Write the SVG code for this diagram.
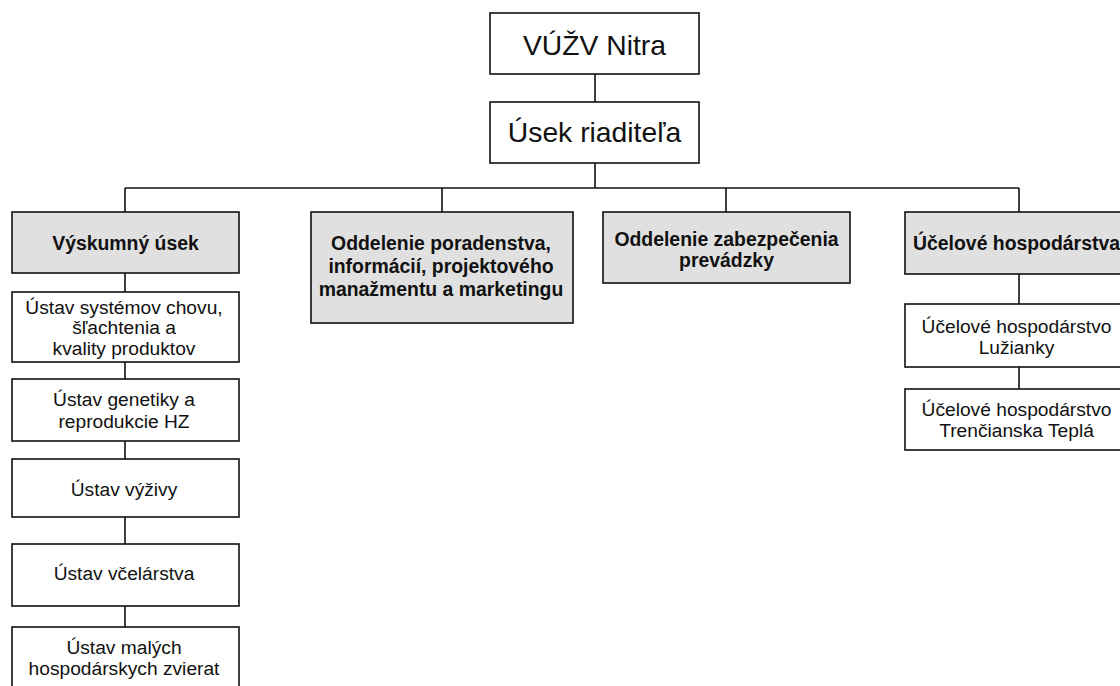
<svg xmlns="http://www.w3.org/2000/svg" width="1120" height="686" viewBox="0 0 1120 686">
<style>
rect.b{fill:#ffffff;stroke:#111;stroke-width:1.6}
rect.g{fill:#e0e0e0;stroke:#111;stroke-width:1.6}
text{font-family:"Liberation Sans",Arial,sans-serif;fill:#111;text-anchor:middle}
.n{font-size:19.2px}
.bd{font-size:19.4px;font-weight:bold}
.big{font-size:28.3px}
#connectors path{fill:none;stroke:#111;stroke-width:1.6}
</style>
<rect width="1120" height="686" fill="#ffffff"/>
<g id="connectors">
<path d="M595 74V102"/>
<path d="M595 163V188"/>
<path d="M125 188H1019"/>
<path d="M125 188V212"/>
<path d="M442 188V212"/>
<path d="M726 188V212"/>
<path d="M1019 188V212"/>
<path d="M125 273V292"/>
<path d="M125 362V379"/>
<path d="M125 441V459"/>
<path d="M125 517V544"/>
<path d="M125 606V627"/>
<path d="M1019 274V304"/>
<path d="M1019 367V389"/>
</g>
<g id="vuzv"><rect class="b" x="490" y="13" width="209" height="61"/><text class="big" x="594.5" y="55">VÚŽV Nitra</text></g>
<g id="usek-riaditela"><rect class="b" x="490" y="102" width="209" height="61"/><text class="big" x="594.5" y="142">Úsek riaditeľa</text></g>
<g id="vyskumny-usek"><rect class="g" x="12" y="212" width="227" height="61"/><text class="bd" x="125.5" y="250">Výskumný úsek</text></g>
<g id="oddelenie-poradenstva"><rect class="g" x="311" y="212" width="262" height="111"/><text class="bd" x="441" y="250">Oddelenie poradenstva,</text><text class="bd" x="441" y="273">informácií, projektového</text><text class="bd" x="441" y="296">manažmentu a marketingu</text></g>
<g id="oddelenie-zabezpecenia"><rect class="g" x="603" y="212" width="247" height="71"/><text class="bd" x="726.5" y="246">Oddelenie zabezpečenia</text><text class="bd" x="726.5" y="267">prevádzky</text></g>
<g id="ucelove-hospodarstva"><rect class="g" x="905" y="212" width="228" height="62"/><text class="bd" x="1016.5" y="250">Účelové hospodárstva</text></g>
<g id="ustav-systemov"><rect class="b" x="12" y="292" width="227" height="70"/><text class="n" x="124" y="314">Ústav systémov chovu,</text><text class="n" x="124" y="334">šľachtenia a</text><text class="n" x="124" y="355">kvality produktov</text></g>
<g id="ustav-genetiky"><rect class="b" x="12" y="379" width="227" height="62"/><text class="n" x="124" y="406">Ústav genetiky a</text><text class="n" x="124" y="428">reprodukcie HZ</text></g>
<g id="ustav-vyzivy"><rect class="b" x="12" y="459" width="227" height="58"/><text class="n" x="124" y="496">Ústav výživy</text></g>
<g id="ustav-vcelarstva"><rect class="b" x="12" y="544" width="227" height="62"/><text class="n" x="124" y="580">Ústav včelárstva</text></g>
<g id="ustav-malych"><rect class="b" x="12" y="627" width="227" height="70"/><text class="n" x="124" y="654">Ústav malých</text><text class="n" x="124" y="675">hospodárskych zvierat</text></g>
<g id="uh-luzianky"><rect class="b" x="905" y="304" width="228" height="63"/><text class="n" x="1016.5" y="333">Účelové hospodárstvo</text><text class="n" x="1016.5" y="354">Lužianky</text></g>
<g id="uh-trencianska"><rect class="b" x="905" y="389" width="228" height="61"/><text class="n" x="1016.5" y="416">Účelové hospodárstvo</text><text class="n" x="1016.5" y="437">Trenčianska Teplá</text></g>
</svg>
